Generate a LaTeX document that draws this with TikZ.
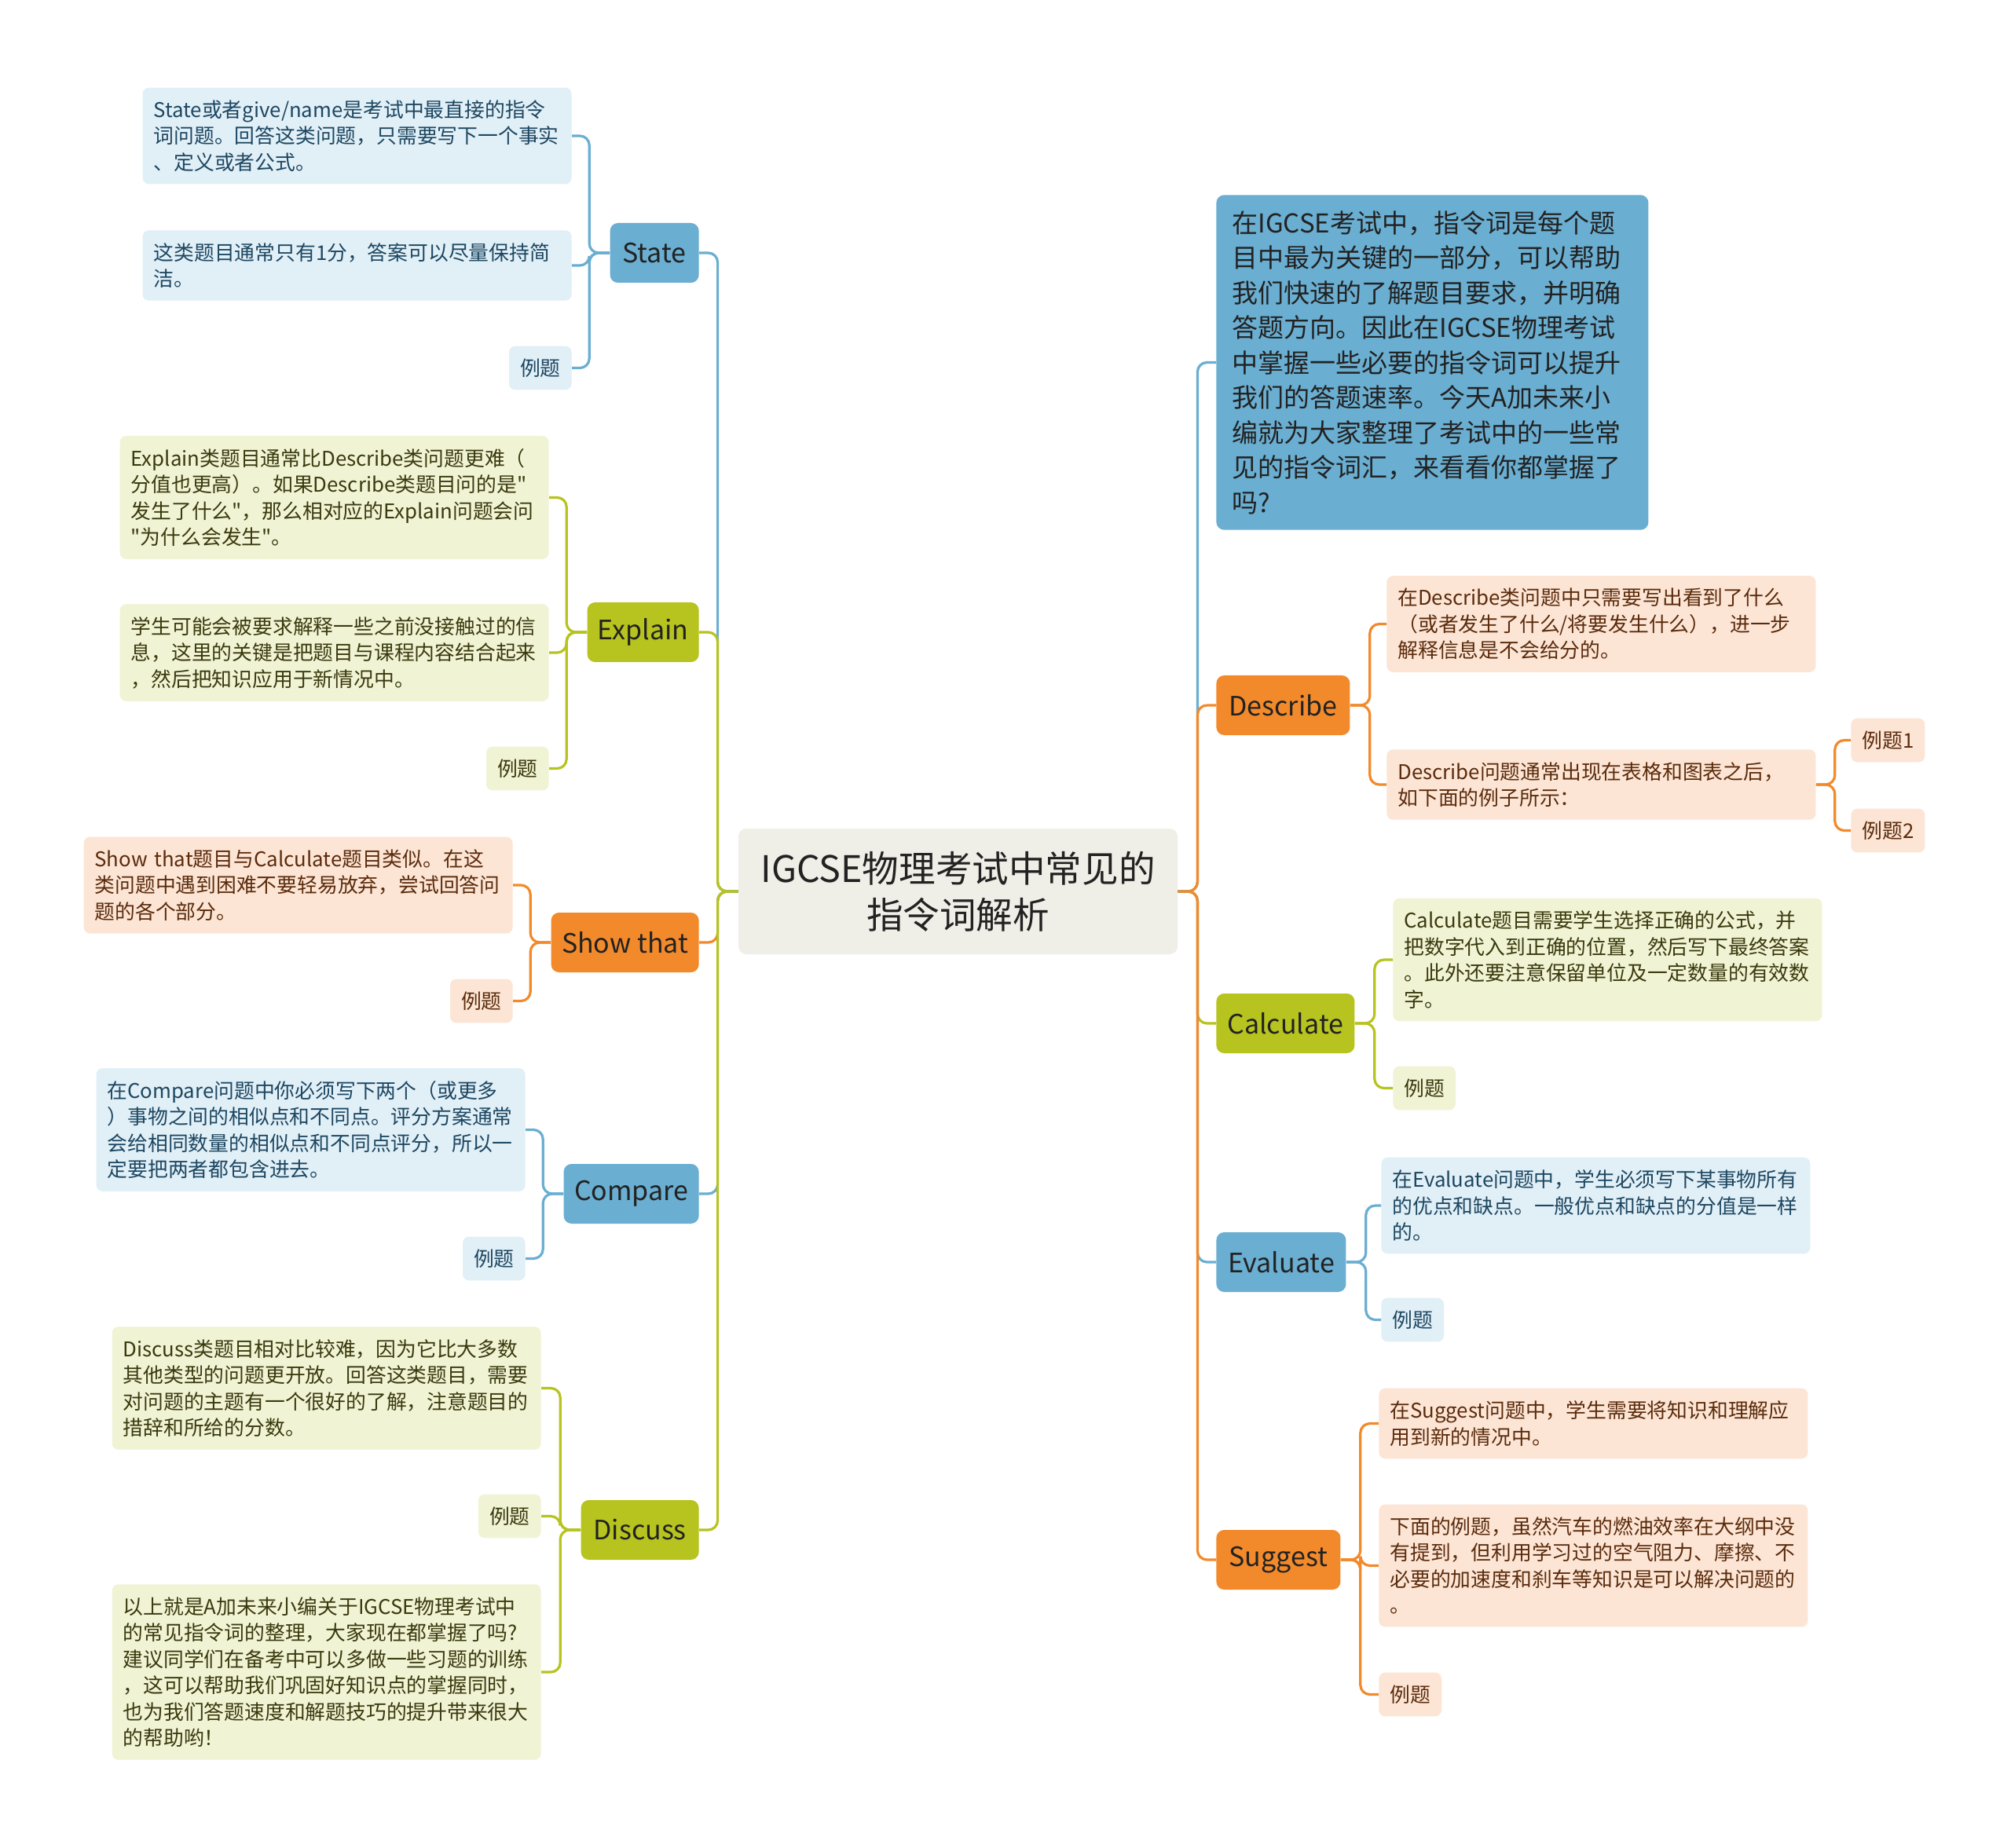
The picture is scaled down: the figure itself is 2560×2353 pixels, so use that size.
\documentclass[tikz,border=0pt]{standalone}
\usepackage{fontspec}
\setmainfont[Ligatures=TeXOff]{Noto Sans CJK SC}
\usepackage{xcolor}
\usepackage{tikz}
\usetikzlibrary{positioning}

\definecolor{rootfill}{HTML}{EFEEE7}
\definecolor{bluebr}{HTML}{6AAED1}
\definecolor{greenbr}{HTML}{B7C31E}
\definecolor{orangebr}{HTML}{F28A2C}
\definecolor{bluelf}{HTML}{E1EFF7}
\definecolor{greenlf}{HTML}{F1F3D5}
\definecolor{orangelf}{HTML}{FCE5D5}
\definecolor{bluetxt}{HTML}{1D4761}
\definecolor{greentxt}{HTML}{3A3A0E}
\definecolor{orangetxt}{HTML}{5B2B0C}
\definecolor{darktxt}{HTML}{222222}

\begin{document}
\begin{tikzpicture}[
  x=0.5pt, y=-0.5pt,
  rootbox/.style={rectangle, fill=rootfill, rounded corners=5pt, minimum width=279.5pt, minimum height=80pt, align=center, text=darktxt, font=\fontsize{23.3}{29.5}\selectfont},
  branch/.style={rectangle, rounded corners=5pt, minimum height=38pt, inner xsep=6pt, text=darktxt, font=\fontsize{17}{20}\selectfont},
  leaf/.style={rectangle, rounded corners=4pt, inner xsep=7pt, inner ysep=8pt, align=left, font=\fontsize{12.9}{16.75}\selectfont},
  textleaf/.style={leaf, text width=259pt},
  bleaf/.style={fill=bluelf, text=bluetxt},
  gleaf/.style={fill=greenlf, text=greentxt},
  oleaf/.style={fill=orangelf, text=orangetxt},
  introbox/.style={rectangle, fill=bluebr, rounded corners=5pt, inner xsep=10pt, inner ysep=10pt, text width=255pt, align=left, text=darktxt, font=\fontsize{16.5}{22.25}\selectfont},
  blink/.style={draw=bluebr, line width=1.6pt, rounded corners=6pt},
  glink/.style={draw=greenbr, line width=1.6pt, rounded corners=6pt},
  olink/.style={draw=orangebr, line width=1.6pt, rounded corners=6pt}
]
\fill[white] (0,0) rectangle (2560,2353);
\useasboundingbox (0,0) rectangle (2560,2353);

%% Root
\node[rootbox] (root) at (1219.5,1135) {IGCSE物理考试中常见的\\指令词解析};

%% Left branches
\node[branch, fill=bluebr, minimum width=56.5pt, anchor=east] (state) at (890,322) {State};
\node[branch, fill=greenbr, minimum width=71pt, anchor=east] (explain) at (890,805) {Explain};
\node[branch, fill=orangebr, minimum width=94pt, anchor=east] (showthat) at (890,1200) {Show that};
\node[branch, fill=bluebr, minimum width=86pt, anchor=east] (compare) at (890,1520) {Compare};
\node[branch, fill=greenbr, minimum width=75pt, anchor=east] (discuss) at (890,1948) {Discuss};

%% Right branches
\node[introbox, anchor=west] (intro) at (1548,461.5) {在IGCSE考试中，指令词是每个题\\目中最为关键的一部分，可以帮助\\我们快速的了解题目要求，并明确\\答题方向。因此在IGCSE物理考试\\中掌握一些必要的指令词可以提升\\我们的答题速率。今天A加未来小\\编就为大家整理了考试中的一些常\\见的指令词汇，来看看你都掌握了\\吗?};
\node[branch, fill=orangebr, minimum width=85pt, anchor=west] (describe) at (1548,898) {Describe};
\node[branch, fill=greenbr, minimum width=88pt, anchor=west] (calculate) at (1548,1303) {Calculate};
\node[branch, fill=bluebr, minimum width=82.5pt, anchor=west] (evaluate) at (1548,1607) {Evaluate};
\node[branch, fill=orangebr, minimum width=79pt, anchor=west] (suggest) at (1548,1986) {Suggest};

%% State
\node[textleaf, bleaf, anchor=east] (s1) at (728,173) {State或者give/name是考试中最直接的指令\\词问题。回答这类问题，只需要写下一个事实\\、定义或者公式。};
\node[textleaf, bleaf, anchor=east] (s2) at (728,338) {这类题目通常只有1分，答案可以尽量保持简\\洁。};
\node[leaf, bleaf, anchor=east] (s3) at (728,468.5) {例题};

%% Explain
\node[textleaf, gleaf, anchor=east] (e1) at (699,633.5) {Explain类题目通常比Describe类问题更难（\\分值也更高）。如果Describe类题目问的是"\\发生了什么"，那么相对应的Explain问题会问\\"为什么会发生"。};
\node[textleaf, gleaf, anchor=east] (e2) at (699,831) {学生可能会被要求解释一些之前没接触过的信\\息，这里的关键是把题目与课程内容结合起来\\，然后把知识应用于新情况中。};
\node[leaf, gleaf, anchor=east] (e3) at (699,978.5) {例题};

%% Show that
\node[textleaf, oleaf, anchor=east] (t1) at (653,1127) {Show that题目与Calculate题目类似。在这\\类问题中遇到困难不要轻易放弃，尝试回答问\\题的各个部分。};
\node[leaf, oleaf, anchor=east] (t2) at (653,1274.5) {例题};

%% Compare
\node[textleaf, bleaf, anchor=east] (c1) at (669,1438.5) {在Compare问题中你必须写下两个（或更多\\）事物之间的相似点和不同点。评分方案通常\\会给相同数量的相似点和不同点评分，所以一\\定要把两者都包含进去。};
\node[leaf, bleaf, anchor=east] (c2) at (669,1602.5) {例题};

%% Discuss
\node[textleaf, gleaf, anchor=east] (d1) at (689,1767.5) {Discuss类题目相对比较难，因为它比大多数\\其他类型的问题更开放。回答这类题目，需要\\对问题的主题有一个很好的了解，注意题目的\\措辞和所给的分数。};
\node[leaf, gleaf, anchor=east] (d2) at (689,1930.5) {例题};
\node[textleaf, gleaf, anchor=east] (d3) at (689,2129) {以上就是A加未来小编关于IGCSE物理考试中\\的常见指令词的整理，大家现在都掌握了吗?\\建议同学们在备考中可以多做一些习题的训练\\，这可以帮助我们巩固好知识点的掌握同时，\\也为我们答题速度和解题技巧的提升带来很大\\的帮助哟！};

%% Describe
\node[textleaf, oleaf, anchor=west] (de1) at (1765,794.5) {在Describe类问题中只需要写出看到了什么\\（或者发生了什么/将要发生什么），进一步\\解释信息是不会给分的。};
\node[textleaf, oleaf, anchor=west] (de2) at (1765,999) {Describe问题通常出现在表格和图表之后，\\如下面的例子所示：};
\node[leaf, oleaf, anchor=west] (de2a) at (2356,942.5) {例题1};
\node[leaf, oleaf, anchor=west] (de2b) at (2356,1057.5) {例题2};

%% Calculate
\node[textleaf, gleaf, anchor=west] (ca1) at (1773,1222) {Calculate题目需要学生选择正确的公式，并\\把数字代入到正确的位置，然后写下最终答案\\。此外还要注意保留单位及一定数量的有效数\\字。};
\node[leaf, gleaf, anchor=west] (ca2) at (1773,1385.5) {例题};

%% Evaluate
\node[textleaf, bleaf, anchor=west] (ev1) at (1758,1535) {在Evaluate问题中，学生必须写下某事物所有\\的优点和缺点。一般优点和缺点的分值是一样\\的。};
\node[leaf, bleaf, anchor=west] (ev2) at (1758,1680.5) {例题};

%% Suggest
\node[textleaf, oleaf, anchor=west] (su1) at (1755,1812.5) {在Suggest问题中，学生需要将知识和理解应\\用到新的情况中。};
\node[textleaf, oleaf, anchor=west] (su2) at (1755,1993.5) {下面的例题，虽然汽车的燃油效率在大纲中没\\有提到，但利用学习过的空气阻力、摩擦、不\\必要的加速度和刹车等知识是可以解决问题的\\。};
\node[leaf, oleaf, anchor=west] (su3) at (1755,2157.5) {例题};

%% Connections: root to branches
\draw[blink] (root.west) -- ++(-26,0) |- (state.east);
\draw[glink] (root.west) -- ++(-26,0) |- (explain.east);
\draw[olink] (root.west) -- ++(-26,0) |- (showthat.east);
\draw[blink] (root.west) -- ++(-26,0) |- (compare.east);
\draw[glink] (root.west) -- ++(-26,0) |- (discuss.east);

\draw[blink] (root.east) -- ++(25,0) |- (intro.west);
\draw[olink] (root.east) -- ++(25,0) |- (describe.west);
\draw[glink] (root.east) -- ++(25,0) |- (calculate.west);
\draw[blink] (root.east) -- ++(25,0) |- (evaluate.west);
\draw[olink] (root.east) -- ++(25,0) |- (suggest.west);

%% Connections: branches to leaves
\draw[blink] (state.west) -- ++(-26,0) |- (s1.east);
\draw[blink] (state.west) -- ++(-26,0) |- (s2.east);
\draw[blink] (state.west) -- ++(-26,0) |- (s3.east);
\draw[glink] (explain.west) -- ++(-26,0) |- (e1.east);
\draw[glink] (explain.west) -- ++(-26,0) |- (e2.east);
\draw[glink] (explain.west) -- ++(-26,0) |- (e3.east);
\draw[olink] (showthat.west) -- ++(-26,0) |- (t1.east);
\draw[olink] (showthat.west) -- ++(-26,0) |- (t2.east);
\draw[blink] (compare.west) -- ++(-26,0) |- (c1.east);
\draw[blink] (compare.west) -- ++(-26,0) |- (c2.east);
\draw[glink] (discuss.west) -- ++(-26,0) |- (d1.east);
\draw[glink] (discuss.west) -- ++(-26,0) |- (d2.east);
\draw[glink] (discuss.west) -- ++(-26,0) |- (d3.east);

\draw[olink] (describe.east) -- ++(25,0) |- (de1.west);
\draw[olink] (describe.east) -- ++(25,0) |- (de2.west);
\draw[olink] (de2.east) -- ++(24,0) |- (de2a.west);
\draw[olink] (de2.east) -- ++(24,0) |- (de2b.west);
\draw[glink] (calculate.east) -- ++(25,0) |- (ca1.west);
\draw[glink] (calculate.east) -- ++(25,0) |- (ca2.west);
\draw[blink] (evaluate.east) -- ++(25,0) |- (ev1.west);
\draw[blink] (evaluate.east) -- ++(25,0) |- (ev2.west);
\draw[olink] (suggest.east) -- ++(25,0) |- (su1.west);
\draw[olink] (suggest.east) -- ++(25,0) |- (su2.west);
\draw[olink] (suggest.east) -- ++(25,0) |- (su3.west);

\end{tikzpicture}
\end{document}
